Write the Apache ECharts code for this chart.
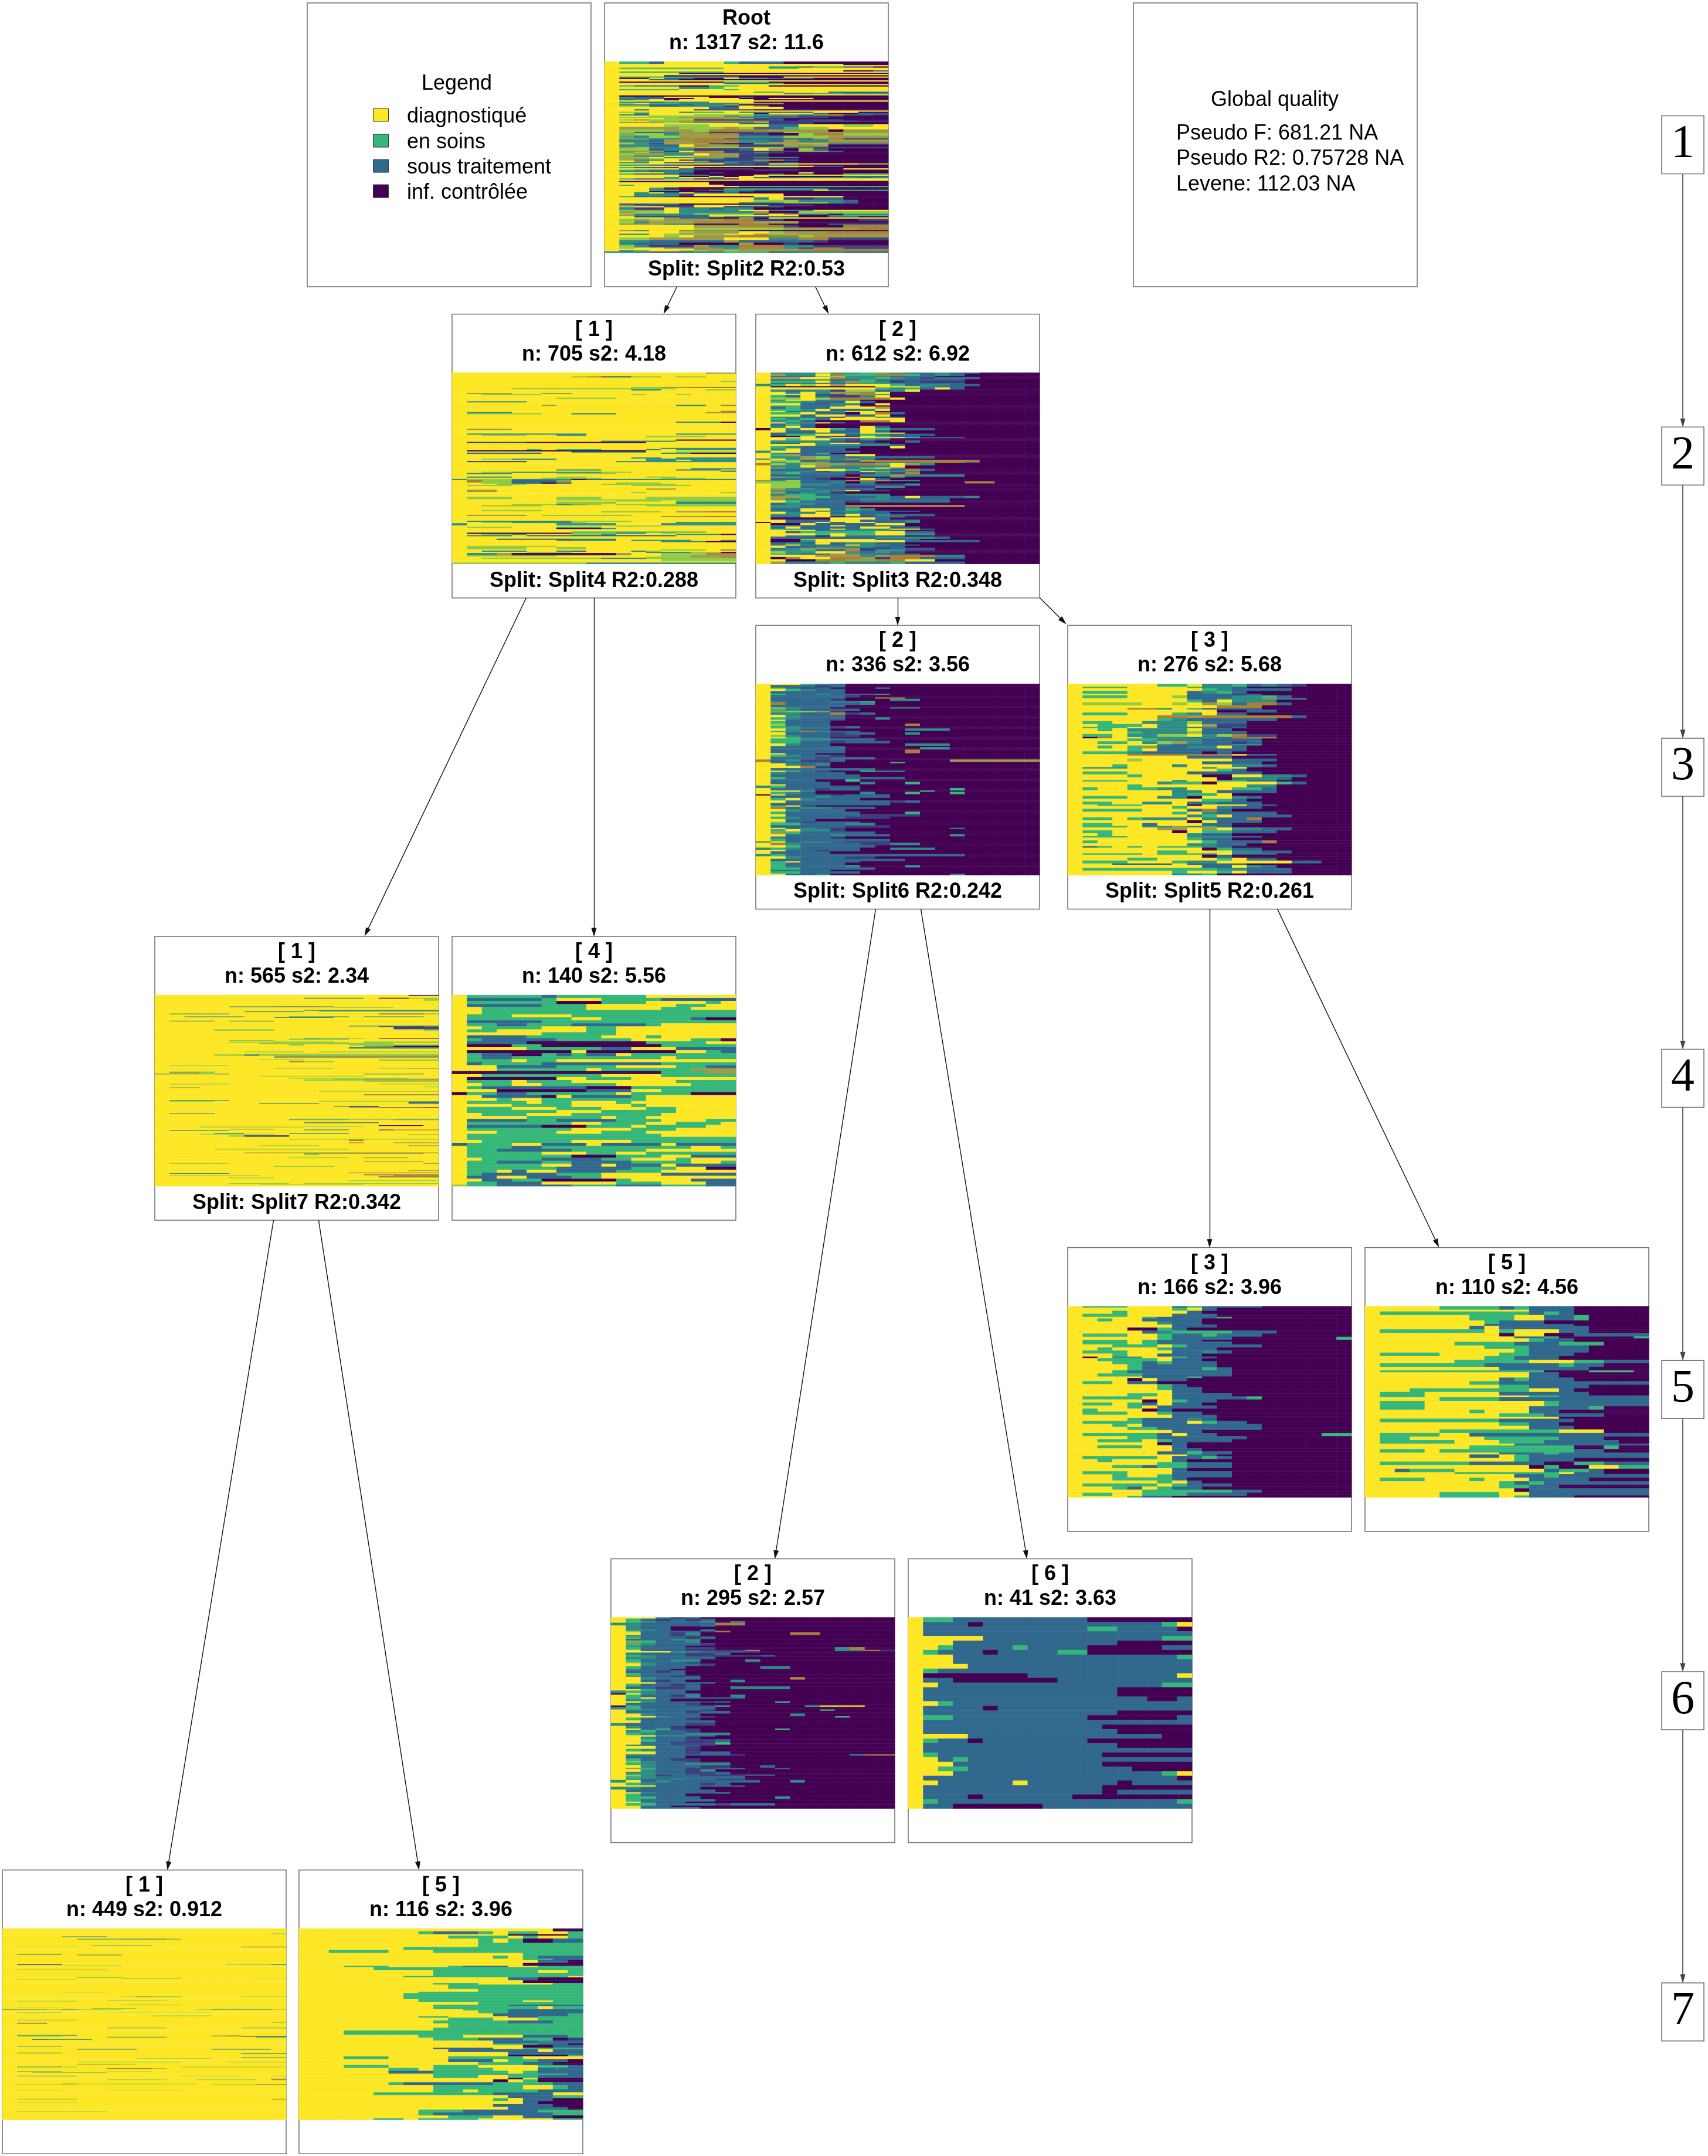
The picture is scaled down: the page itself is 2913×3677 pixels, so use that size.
<!DOCTYPE html>
<html><head><meta charset="utf-8"><style>html,body{margin:0;padding:0;background:#fff}#c{width:2913px;height:3677px}</style>
<script src="https://cdn.jsdelivr.net/npm/echarts@6/dist/echarts.min.js"></script></head><body><div id="c"></div>
<script>
// Each strip: "weight:runs" - weight = strip thickness, runs = state+column count along the 19 time steps
// (a strip keeps its last state up to the final step).
// Y diagnostiqué, G en soins, S sous traitement, P inf. contrôlée;
// L,T,O,B,I = colours seen where thin sequences of different states merge in the picture.
const stateNames = ['diagnostiqué','en soins','sous traitement','inf. contrôlée'];
const stateCodes = 'YGSPLTOBI';
const stateColors = ['#FDE725','#35B779','#31688E','#440154','#8FCB45','#2E8C85','#9C9A48','#A8803A','#3B3F7E'];

const rootRows = ["2:Y1G2S1Y4G1S3P7","1:Y16P3","1:Y19","1:Y11T2S1G2S2P1","1:Y1G7Y3G2Y1","1:Y19","1:Y16P2S1","1:Y1G7Y11","1:Y4Y1P14","1:Y19","1:Y1Y3P15","1:Y1G8P3Y7","1:Y1P2Y1S2P2Y1G2S3P1","1:Y3S2P14","1:Y19","1:Y1P7G3P8","1:Y8S3G1P7","1:Y19","1:Y1G1S2S1P2G2Y2P1","2:Y5T2G1Y11","1:Y1G4Y3G1Y10","1:Y19","1:Y8Y2G2Y3S2S2Y1","1:Y1Y11T2G2T2","1:Y19","1:Y1P18","1:Y1T1S2Y2Y1P2S1P9","1:Y1T1S1S1P2Y2Y1P2Y3P4","1:Y1S1T1Y1P1Y2Y3P9","1:Y19","1:Y1T1S2T3Y3P8","1:Y1L1Y1G2T3T1L1O2P7","1:Y1T2S3T1T1O1P9","1:Y1L2S2T1T2I1Y1O1P7","2:Y1Y1Y2Y3S1S1Y3P7","1:Y2S1Y1Y2I2I2P9","1:Y19","1:Y1L2Y1Y1T1G1G1Y1T2S2S1Y3P2","1:Y2T1Y2Y2Y3P1Y3S1P2S2","1:Y1T1S1Y2Y1L2L2G1O2T1O1O1S2I1","1:Y1Y1Y1L3L2T1O1S3I3P2","1:Y1L2L2O2O2T2S2I2P5","1:Y1Y2Y1L2B2O2I2P7","1:Y1L1O1L3I2I3S1P1I3P2","1:Y3L2O1B2B3I3S3I2","1:Y1O2O1L1O1T2T2L1I3P5","1:Y3Y3Y3S2I3P5","2:Y3Y1L1L2Y1Y3S2Y3L2Y1","2:Y1O2O2L2L1O1L1S2G1L2Y4L1","2:Y1L2L1O2L1B3B1O3O1P1O2","1:Y1L1S2T1O1O1I3S1I1L1O3","2:Y1O1L2T1O2B2I2P2L1B2L2","2:Y1G1T1L2O3O1T3L2L1O3","1:Y1O2T1T1B3S3S3O1B1I1","2:Y1T2S1O2B3T2S1O1T2O2O1","1:Y1O1T2O2B2O1T2O1O1B2B2","1:Y1L1T1I1O2O1I1P2O2O1L2T2","2:Y1T2S2Y1B1O1O1I3O1B1O1P1","1:Y1O1L1T2O1L2L1O1L2T2I2","2:Y1L2S1T2I3S1Y1O1P1L1S1P1","1:Y1B1O2I1Y1B1O1I2I3O2S1P1","1:Y1G1L1T2B3I2T1I1P6","2:Y1L1O2T2Y1O2I2P2P5","1:Y1O1T1T1Y2O2O1I2P7","1:Y1L2Y1T2O2T1I1T3P5","1:Y1O2L1Y2T2I3P7","1:Y1L1T2Y1I2I3O2S1P5","1:Y1Y1O1Y1Y2O1I1S3P6","1:Y1T2Y1S1I1T3I3S1P5","1:Y1Y6Y1S1S1I1Y6L2","1:Y1T2S1I2P2I3S2P5","1:Y3Y3Y2Y3Y3S2P3","1:Y1G1S2I1Y1P5I2P5","1:Y4Y1S2I3P6Y2","1:Y1G1T1S3P4I3P5","1:Y1T2S1T2P12","1:Y3Y1T1I1P1I1P5Y1P5","1:Y1G1S1S2I1P5S1P1S1P2G1","1:Y3Y2T2P3Y8","1:Y1Y2Y2P2Y1P1Y2P5S2","1:Y4T1Y2T1Y2S3T1T3S1T1","1:Y1G1S2G2I3Y9","1:Y19","1:Y1P18","2:Y3Y3Y1P10","1:Y1G1Y6P11","1:Y3Y5Y1G7G2","1:Y1Y2L1S1P7","1:Y1Y2S1P4G3G4P3","1:Y3G2P1I1T3S3S1Y1G1","1:Y3P2P3T1I1P3P6","1:Y2T1Y1S1Y1S1I1S1P7P1","2:Y1Y1T2T1I1Y6P7","1:Y1G1S2I1P5Y6P3","2:Y5Y3Y2T1Y1I2S2P3","2:Y1Y4Y3Y2L2L1T2T1S1P2","1:Y7Y2T3L2L1T1S1P2","1:Y1I2S2P3P11","1:Y1O1S1I2I1Y1Y2L2I3P5","1:Y1L1Y2I2Y2I3S1P7","2:Y1T1I2Y1T2S1T2P2P6","1:Y1L1O1O1Y1T2T2Y2T1T2Y3","2:Y1O1L2Y1T1T3T1O1P2L1L2L1","1:Y1L1T3T1L1L3I1Y1O1T2P1T1","1:Y1O1T3S2Y1Y5P2T1G2","1:Y1Y1I3S2L1T2S3P2S2P1","1:Y1Y2Y1O1S2P2O1P1Y5","2:Y1L1O1L1O2O2B2I2P5I1","2:Y1L1T1O3B2B2O3P5","1:Y1O2O1T2P3B2P4S2","2:Y5Y1O3B3I1P3B2","2:Y6L3L3O2O3B1B1","1:Y1O1T1Y2B3B1P10","2:Y5L1O2O1Y2L1O1O2B3","1:Y1T2Y1L1O1L2Y2O1L2O2O2","2:Y4L1Y1O3B2B2L1O2O2","2:Y1L2O2O3Y3T1T1B2I3","2:Y1T2S3S2O1S3S2I1P3","2:Y1T1S2S1P2P2O1P2I1P3","2:Y1L1T1I3O1T1T1B3T1T1I3","1:Y1L1Y2O2B2T1B2B1T1I1B2I1","1:Y1Y2Y3O3O2O2B4B2","1:Y1T1O1Y2L2O1L1O2O2B3B2","1:T1T2S3T2G3S2T3S3"];

const n705Rows = ["1:Y17O2","2:Y19","1:Y8L1O1S2L2Y1L2Y2","3:Y19","1:Y18L1","4:Y19","1:Y12L2O2B3","1:Y4L11Y4","1:Y12T2Y3L2","2:Y19","1:Y1O3Y2O2Y11","1:Y2L4Y6L1Y2L1Y3","2:Y19","1:Y7L4Y8","2:Y19","1:Y1T4Y14","2:Y19","1:Y6O1Y8T2Y1B1","4:Y19","1:Y18B1","1:Y1T3Y13O2","1:Y1L5Y2T3Y8","6:Y19","1:Y15T3P1","5:Y19","1:Y1O3Y15","3:Y19","1:Y1T8Y6T4","1:Y2L3Y2T2Y10","1:Y13L4Y2","2:Y19","1:Y15P4","1:Y10T5Y4","1:Y1I4P8Y6","4:Y19","1:Y14T5","1:Y5G1Y1G3Y3T1Y1T4","1:Y1P12Y6","1:Y8T5Y2L4","1:Y1S5Y8T2P3","3:Y19","1:Y12T2Y1T4","1:Y2L2T3Y6T6","1:Y13T2Y1T3","1:Y1I4Y6T2T6","5:Y19","1:Y16T3","1:Y7T3Y1Y4T3Y1","1:Y18S1","1:Y2L2T3T3L2Y7","1:Y1T3Y3L4Y8","2:Y19","1:Y1T3Y3L2Y4L2Y4","1:Y6L4Y4L3Y2","1:T1L1L2T3T1P1S2T2T6","2:Y1B1L2S3O1Y11B1","1:Y2L2S2P1S1Y3L3Y5","1:Y3L2Y5L3L2Y4","1:Y1L3Y8L4Y3","2:Y19","1:Y3Y10O2Y4","2:Y1O2Y16","1:Y12L1Y5L1","3:Y19","2:Y1L3Y3L3Y3L2L6","1:Y7L3L5L4","1:Y11L3Y1L4","2:Y7L4Y4T2T2","1:Y4L3T1O1L1Y1L3L5","1:Y2L4Y7L6","3:Y19","1:Y2L4Y13","1:Y10L2L2Y1O2B2","2:Y19","1:Y1O4Y1L2L3L1Y7","1:Y14O3B2","3:Y19","1:Y1T3T4L3L1Y7","1:Y2L2T3T1L1Y3Y3T2T3","2:T1Y6T3T1Y3T2T3","1:Y1Y8Y2L3Y5","1:Y1L3Y3G3Y1Y8","1:Y7P3T1Y8","2:Y19","1:Y8G9Y2","1:Y1P7L3T1T1Y1L1Y4","1:Y2L2T1Y3L2T1Y4T3P1","1:Y1T3Y1S3S3S2S2Y3","2:Y19","1:Y3S5T2T1Y8","1:Y7T4Y1T3T1Y2T1","1:Y14T3P2","3:Y19","1:Y1L6Y12","2:Y1L3L1Y2L2Y10","1:Y14L3Y1B1","1:Y2T3Y2T1S1Y3T1L1Y4","1:Y5L3Y5T3L2P1","2:Y1T2O1P7O1Y2L3B1","1:Y1L6Y7L2O3","1:Y13L3O2B1","1:Y2L3L2L3T3L2L1L1L2","2:Y14L5","1:Y19","1:L3L3L3T3T3T4"];

const n612Rows = ["1:Y1T3L1T2G2T1S2T1S2P1","2:Y1O1T2Y1B1G2B2G1S1T1S1P1","1:Y1S3L1L1T2T1S3P1","2:Y1O2Y2B1T2G1T1S1I1S3P1","1:Y1S3T1S2G1S1S2S3P1","2:Y1G3Y1T1O1G1T1I1S1I3P1","1:Y1S3S2T1T1T2S4P1","2:T1G1Y1L1Y1O1Y1Y1Y1G1S1T2S2P1","1:Y1P7Y3T1S2P1","2:Y1Y3Y3Y1G1T1G1S1Y1S1P1","2:Y1T1S1T2I1L2S1T1Y1P1","2:Y1Y1T1Y1T1O2B1Y1P1","1:Y1Y3I2O1B1T1P1","2:Y1G1S1Y1S1I2T1Y1P1","2:Y1L2Y1L1B2B1B1Y1P1","1:Y1T1Y2T3P1","2:Y1G2T1S2Y1S1P1","2:Y1Y2S2T2P1Y1P1","1:Y1G2S2S1Y1P1","2:Y1S1G1S2Y3O1P1","2:Y1G2T1Y1S1S1T1Y1P1","1:Y1Y1S1T1T2Y2P1","2:Y1G2Y1S2P1Y1B1S1P1","2:Y1Y2S1Y2S2Y1P1","1:Y1T2S2I1Y1Y1T1S1P1","2:Y1G1T1G1S1Y2Y3P1","2:Y1T1G1S1P3B2Y1P1","1:Y2S1T1Y1S1P1","2:Y1S1G1S1P5","2:Y1T1Y1S1P3Y1S1P1","2:P1Y1T1Y2G1S1Y1G1S1S2P1","2:Y1Y1S2Y1S1S1Y1S1P1","1:Y1S3S2T1Y3P1","2:Y1S1G2Y2S1G1T1S3P1","1:Y1P2Y1S1I2Y1G1S2P1","1:Y1Y3T1Y2Y3G1S3P1","2:Y1Y1G1Y2S1I1T1S1P1","2:Y1T2T2S1I2P2S1P1","1:Y1S2Y1T1Y2S2P1","2:Y1Y2Y1T2T3S1P1","2:Y1G1T1S2S2P2Y1P1","2:Y1T1Y1S3P1","2:T1Y2S3S1P1","1:Y1T1S1S1G1P1","2:Y1G1O1S2S1Y2P1","2:Y1T2O1L1S2T1S2S2P1","1:T1Y1T1O2T1O1T1P3","2:Y1L2S1T1S2O1B3B2B2P1","1:Y1T1L1O1O1S2I1T3B3S1P1","2:B1L1T1L1O2B2O1Y1O1T1P1","2:Y1T2Y1O1T2T2Y1P1","1:Y1O1T1S2S2L1Y1T1P1","2:Y1S3Y2G1T2S1B1S1P1","1:Y1T1T2I1T1I1Y1O1T2P1","2:Y1T1G1S3I2T1I1B1P1","2:Y1S3S2P1T2O1T3T1P1","1:Y1O1G1S2I1B1P2T1P1","2:Y1S2S1I1P2Y1S1P1","1:O1T1L1S2S1B2O1T1T1P1","2:L1L1L1S2T1P1T1P6B2P1","2:Y1L2T2S3I2T1P1","2:Y1L2S2S1I2T1T1P1","2:Y1O1T2S3S1P1","1:Y1T2S1T2Y1I1I1P1","2:Y1O1S1T2I1P1","2:Y1T1G2S2T1T1T1P1","2:Y1O2G2S3T1S1Y1S3T1P1","2:Y1O1T1G1S3T2S1S1S2P1","2:Y1Y1G1S2S1I1S1S3S2P1","2:Y1S1T2S2P1","2:Y1T2S3B1B5B2P1","1:Y1T2S3T1P1","2:Y1S2Y2S1G1T1P1","1:Y1T1S1Y1T3S3S1P1","2:Y1Y1T2Y1S1T1S2P1","2:Y1T2Y2T1Y1S1T1S2S1P1","1:Y1S2Y2P1S1I1S1T1P1","2:Y1P4Y3S1P1","2:Y1Y1S2S1Y2S3T1P1","1:P1Y1S2Y1S1Y2S1S1T1P1","2:Y1P2Y1S2S2Y2P1","1:Y1T2S2Y1S2S1T1P1","2:Y1S1Y1S3S1Y2S2P1","1:Y1G1T1S2Y1S1T2Y2S1P1","1:Y1Y3S2T3S1P1","2:Y1Y1S1G3G2Y1Y1S2P1","2:Y1Y2Y1G1Y1G2Y2T2P1","1:Y1Y1S2P1Y1S1S3P1","2:Y1S2S2S1S1S1T1T1T2S1P1","1:Y1P2L1Y2Y2S3P1","2:Y1P2T1Y3Y3S3S2P1","2:Y1S1T1S1Y1S1T2S2P1","1:Y1T1Y1T1S2Y1T2S2P1","2:Y1Y1S2T1T2T1S2P1","1:Y1S1T1O2B2I2S1S1S1P1","2:Y1T2G1S2B1I1T1T1I2P1","2:Y1L1T2Y1Y1T1S1T1S1P1","1:Y1G1T1S2O1B1T1S3P1","2:Y1Y3O2O1T1O1B3T2P1","2:Y1P1B1Y1Y1B2O1I1B2S2S1P1","2:Y1Y1P2B2O2B2Y2P1","2:Y1O1T1T2G1T1T1T1G1S2S2P1"];

const n336Rows = ["1:Y1Y2G1T1S1P1","2:Y1S3I1S1P1","1:Y1G1S1I1S1P3T1P1","2:Y1Y1G1T1S1S1P1","2:Y1S3S1S1P1","1:Y1G1S2T1S2S1T1P1","2:Y1S3S1S1I1P1","1:Y1S3S2P2B1B1P1","2:Y1S4I1P3T2P1","1:Y1T1S3T1T1G1P4","2:Y1B1S3S2T1P1","2:Y1S3S1S1P1","1:Y1L1T1S1S1P4T2P1","2:Y1G1T1S2S1S1P1","1:Y1O1L2O1I1P1","2:Y1T1T1S2B1I1S1P1","2:Y1Y1T1S2S1P1","2:Y1G1T1S2S1P2T1P1","1:Y1Y1S3I1P1","2:Y1G1S1S2P1","2:Y1L1S3P5B1P1","2:Y1G1T1S2I1S1P1","2:Y1Y1T1S2P5T2T1P1","1:Y1G1T1B1T1S2P1","2:Y1Y1S3I1S2P2T1P1","2:Y1L1T1S1S1I2P1","1:Y1Y1G1S2P1","2:Y1G2T2S1S1S1P1","2:Y1G2S2I1S3P1","2:Y1Y1T1S2P5T2T1P1","1:Y1T1S3S1P1","2:Y1S4S1P5T1T1P1","3:Y1S3S2P4B1P1","1:Y1Y1S1S1P1","2:Y1G1T1S2I1P1","2:Y1S2S1I1S3P1","2:B1S1T1I2S1P7O1","1:Y1S3S1P4G1P1","2:Y1Y1T1S1T1P1","2:Y1Y2B1I1P1","2:Y1S3S3S1P1","1:Y1Y1G1S1I1P2G1T1T1P1","2:Y1T1S2S2P1","2:Y1S4S1S1P1","2:Y1G1S2S2S3S1P1","2:Y1S2S1P2G1P1","2:Y1S2S2P2T1P2G1P1","1:Y1Y1S2S1P1","2:T1G1S3S2P1","2:Y1S3I1S2P6G1P1","1:Y1Y2T1P7G1P1","2:Y1G1T1S1P3T1P2G1P2G1P1","1:P1Y1S3I1S3P1","2:Y1S3T1S1S3P1","2:Y1G1Y1T1S3P1","2:Y1Y1S3S2S2I1S1P1","2:Y1S4S3S1P2","1:Y1G1Y1I1P2","2:Y1B1S1T2S3P1","2:Y1Y1T1S1S1S1P1","2:Y1G1S3S2P3G1P1","2:Y1Y1S3S2I1I2I1P1","2:Y1G1T1S3I3P1","2:Y1Y1S2P1","1:Y1L1S1I1S3P1","2:Y1G2S3T1T1P1","2:Y1S2S3I3P1","1:Y1Y1S1T1S1I1P7T1P1","2:Y1G1Y1T1T1I1P1","2:Y1O1G1S2S2S1P1","2:Y1Y1S3T1S3P4T1P1","2:Y1T1S2S1I1P1","2:Y1G1S2S2S3P1","1:T1Y1S1T2S1I3P1","2:Y1B1T1S2S2I2T2P1","2:Y1Y1G1S1S1S3P1","2:T1G1T1S2S2P2T1T2P1","1:Y1Y1S2I1S2P1","2:Y1S3S1P1","2:T1G1S2S3S1S2S3S1P1","2:Y1Y1T1S2S1I2P1","2:Y1S3S3S3P1","1:Y1G1Y1S3S1P1","2:Y1G1S3S1P1","2:Y1G1S2S2T1P3T1P1","2:Y1G2S3S1S1P1","1:Y1S3S1P1","2:Y1G2S2S2P1","1:Y2S1S1T1P8T1P1"];

const n295Rows = ["1:Y1Y2T1I1S1P1","2:Y1G1S1I1S1I1S1P1","1:Y1G1T1S2S1T1P1T1P1","2:T1T1S3S1S1B2P1","1:Y1T1S2I1I1S1P1","2:Y1T1S1S1P1","1:Y1T2S1P2T1P1","1:Y1L1S3S1I1B1P1","2:Y1Y1S2I1T1P6B2P1","1:Y1T1S2I1S1P1","2:Y1G1S3I1S1P1","1:Y1S2S1T2P1","2:Y1O1G1S2T1P1","2:Y1G1T1S3I1P1","1:Y1T1S2S1P1","2:Y1G1S3I2P8T1B1P1","1:Y1Y1S2S1I2I2B1P5T1T1B1I1","1:Y1Y3T2S1I1S1I1P1","2:Y1T1S3I2S1P1","1:Y1G1T1S2I2I3S1P1","2:Y1T2S2S2P1","2:Y1G1S2T1T1P3T1P1","1:Y1L1T1S2I1P1","2:Y1Y1T1S2S1I1P1","2:Y1G1S2S1P5T1T1P1","1:Y1T1S2P1","2:Y1S2I1S1P1","2:Y1G1S2S1P1","1:Y1B1S2I1S1P1","2:Y1Y1T1S3P6B1P1","2:Y1Y1S1I1S1P3T1P1","1:Y1Y2S2S2P1","2:Y1G1S2I1S1P1","2:Y1S2I2S1P2T2T2P1","1:Y1Y1G1S2S1P1","2:T1G1T1S2P1","1:P1Y1T1S2S1P1","2:Y1G1S2I1T1P2T1P1","1:Y1G1Y1S3S2S1P1","2:Y1T2S1P1","1:Y1Y1T1S3I1S1P3G1P1","2:Y1S4I1P1","1:P1G1S1S3S1G1P5G1Y3P1","2:T1G1S3S1S1P1","1:Y1T2S3I1P7G1P1","2:Y1S3S1I1S1S1P1","2:Y1Y1T1S2S1P6T1P1","1:Y1Y2T1S2I1P8G1P1","2:Y1G1S2S1I1P1","2:Y1Y1S2S2S1P1","2:T1S1S3I2P1","2:Y1T1S2I1P1","1:Y1Y1S1G1I2P5G1P1","2:Y1T1G1S2I1P1","2:Y1G1T1S2T2T1P1","1:Y1Y2T2S1S1P1","2:Y1Y1T1S2I1P1","2:Y1Y1G1S2I2S1P1","2:Y1Y1S2I1I1I1G1P1","1:Y1T2S2S1I1P1","2:Y1Y2S2I1P1","2:Y1G1T1S2I1P1","2:Y1Y2S2I1S2P1","1:Y1T2S3S2I1P7T1B2","2:Y1S2S1S1P1","2:Y1G1S1S1I2P1","1:Y1L1T1S2I1P1","2:Y1G1T1S2T1T2P1","2:Y1Y1T1S3I2P2S1P1","1:Y1O1G1S2I2S2P2S1P1","2:Y1Y1T1S2I1T1P1","2:Y1T2S2I2S1P1","1:Y1L1T1I1S2I3S2P1","2:Y1G1T1S2S1S2S1P1","1:Y1T1S2T1S2I2P1","2:T1Y1S1T1S2S2S2P2T1P1","2:Y1G1T1S2S1I1S1P1","1:Y1Y2S2S2S1S1P1","2:T1T1S3S1P1","2:Y1S3S3P1","1:Y1Y1T1S1S1S1S1T1P1","2:Y1G1S2S1P1","2:Y1G2S2S1P5T1P1","2:Y1G1S2S2S1P1","1:Y1Y1T1S2P1","2:Y1G2S2S2I1S2S1P1","1:Y1Y1S1S1P1","1:Y2S2S1S1P1"];

const n276Rows = ["2:Y6G2Y1T2G1S1T1S1I1P1","1:Y1G3Y3Y1G1T2S1P1","2:Y4Y3Y2G1T1S2S2P1","2:Y1G3Y2Y2S1T1G1S1P1","1:Y3Y3Y2S1S2I1S1P1","2:Y1G2G1Y3L1S1S2T2G1S1P1","1:Y4Y4S2T1T2B1T2P1","2:Y4Y1Y2Y1G1S1Y1T3P1","2:Y1L3L1Y2L1Y1O1L1S1B2S1P1","2:Y5Y2Y2Y1B2B1P1","1:Y4B2T1Y1G1S2S2P1","2:Y4Y2Y3Y1P2S2P1","2:Y1G3Y2Y1G1T1Y1S2P1","2:Y6B2O1B1B3B2S1P1","2:Y1Y4Y1G1T1S2S3S1P1","2:Y1G2Y1Y1T2T1L1S2S1P1","2:Y2G2G1Y1T2Y1O1I2P1","1:Y1G3Y2T1T3I1S1P1","2:Y1Y1G1Y1T3T1Y1S2P1","2:Y3Y1G1T3L1S2S1P1","2:Y1G2Y1T2L2Y1T1L1B1I2P1","1:Y1P1B1Y1Y1T2T1S1T1S1B3P1","2:Y1Y3G2T2T1S1S2S1P1","2:Y2G2Y1T1L1O1T1S2I1S1P1","1:Y3Y2Y1T1S1S1S2T2P1","2:Y2G1Y1G1O1S2T1T1Y1S1P1","2:Y4G1Y1S3S1S2P1","2:Y1G3T1S2S2P1S1P1","1:Y4B5B2Y1S2P1","2:Y4Y2Y2S1S1S1P1","2:Y3Y1L1Y2Y3Y1S2S1P1","2:Y5Y3Y1S1S2S1P1","2:Y3G1Y1Y2T1Y3T2S1P1","1:Y1T3Y5T1Y2P1","2:Y5Y3Y2G1S1P1","2:Y1G3Y2Y2S2S1S1S1P1","2:Y4G1Y4P2Y2T2S1P1","2:Y5Y2Y3P1T3S1P1","1:Y1G3Y3T1Y1Y1G2S2P1","2:Y4Y2T1G2P1Y3Y1G1S1P1","2:Y4G1Y2Y3Y2T2P1","2:Y1G1Y2G2T2Y3G2S1P1","2:Y5Y2T2Y1S2S2P1","2:Y4Y2Y1T1G2Y1P1","2:Y1G3Y2T2P1Y2T1S1P1","2:Y2Y2Y2Y2Y1G2S1P1","2:Y1G2Y1Y1T2Y1S1T1S2S1P1","1:Y2G3Y3P1Y3S2P1","2:Y4Y1Y2G1Y2T1S2P1","2:Y1G3G1Y2Y1S1B1S1P1","2:Y5Y2G1Y1T1S2S1S1P1","2:Y3Y2Y2Y1T1G1Y1S3S1P1","2:Y1G2Y1G1T2T1Y1T1S2B1P1","2:Y4Y2Y2P1Y1S3P1","2:Y1G2Y1Y1S1Y3S1S1P1","1:Y1G3Y1T1T1O1T1G1S1P1","2:Y4Y2O2Y1O1Y1T2S2P1","2:Y1G2Y2Y1Y1P1Y1G2S1S2P1","2:Y2G1Y3Y2T1S1S1P1","1:Y1G3Y3Y1T3S2P1","2:Y6Y1Y1G1S2P1","2:Y1G1Y3Y2Y1Y1G1S2S1B1P1","2:Y5Y2Y1T2S2P1","1:Y1S1G1Y1G1Y1G3T1S1P1","2:Y5Y2Y2P1G1S2P1","2:Y3Y3G2Y2Y1T2S1S1P1","1:Y1G4Y1G1G2T1Y1S3P1","2:Y4Y2Y2Y1P1S1P1","2:Y3Y1G1G1Y1Y3G1Y1S2P1","2:Y1G3Y3G1T2Y3Y2S2P1","1:Y3S3S1Y1S2S2P1","2:Y5Y2Y1Y1S2Y1T1S1P1","2:Y1G6G1G2T2S2S1P1","2:Y6Y1G1Y2G1Y1S3P1","1:Y7T2G1P1"];

const n565Rows = ["1:Y17P2","3:Y19","1:Y10T4Y1P2L2","3:Y18L1","8:Y19","1:Y5T3S3T1Y7","1:Y12L4Y3","3:Y19","1:Y10T9","1:Y11T8","1:Y6T4Y9","2:Y19","1:Y1T4Y10I3B1","3:Y19","1:Y2T4Y3T4Y1T4Y1","1:Y8T4Y7","4:Y19","1:Y1T3Y1T3Y11","6:Y19","1:Y13T4S2","1:Y15I3B1","3:Y16I3","2:Y4L4Y10L1","10:Y19","1:Y10T1O3Y1P4","2:Y9L4Y6","2:Y5L3Y11","1:Y8L4Y2L5","1:Y5L8Y1L5","2:Y7L9Y3","2:Y9L1Y3L6","2:Y14O1B1P3","2:Y13T6","4:Y19","1:Y6L4Y1L8","2:Y19","1:Y7L12","2:Y4L2T1L12","2:Y8O11","1:Y8O11","2:Y19","1:Y7L3Y5L4","1:Y15L4","2:Y9B1L2Y7","4:Y19","1:Y1L4Y14","3:Y19","1:Y8L4Y3L2O2","4:Y19","1:Y1L3Y15","2:Y1O2L1Y15","1:T1L3T1Y9T4Y1","2:Y19","1:Y7L7Y5","2:Y19","1:Y9L8Y2","1:Y12L2O4B1","2:Y10L9","1:Y14O5","3:Y19","1:Y1L4Y10L4","3:Y19","1:Y18L1","1:Y1O2Y16","4:Y19","1:Y11L8","4:Y19","1:Y14I5","7:Y19","1:Y1T4Y14","1:Y1L3Y3Y4L5L3","2:Y17S2","1:Y7T4Y6S2","3:Y19","1:Y12S3Y4","1:Y13I2Y4","1:Y15I2I1P1","7:Y19","1:Y1T3Y15","7:Y19","1:Y9T10","1:Y9L4Y3L3","3:Y19","1:Y10S5Y4","3:Y19","1:Y15P3Y1","1:Y10L4Y5","1:Y3L7Y9","2:Y19","1:Y5O3Y11","1:Y10T3Y2I1B3","1:Y1T4Y14","3:Y19","1:Y4T2Y3T4Y6","1:Y3L5Y11","1:Y17O2","2:Y5L1I3Y10","3:Y19","1:Y9L10","2:Y13B1Y5","2:Y19","1:Y13B1Y2O3","3:Y19","1:Y7L4Y6O2","4:Y19","1:Y4L9Y6","4:Y19","1:Y6O13","1:Y10O8Y1","2:Y10L1Y8","3:Y19","1:Y9L4Y1O3Y2","4:Y19","1:Y14O4Y1","2:Y19","1:Y1L4Y13O1","3:Y19","1:Y8L4Y7","5:Y19","1:Y17O2","2:Y19","1:Y13B6","1:Y1T4Y14","2:Y14O5","1:Y1L6Y9B3","2:Y15B4","1:Y5L3Y11","3:Y19","1:Y13L6","3:Y19","1:Y5L4Y1L9","1:Y7L7Y5","2:Y19"];

const n140Rows = ["2:Y1G5S1G1G5Y6G1","2:Y1S5G1Y3G4S4","2:Y1G6P3G3Y4G1Y1","2:Y1S5G3Y6G2Y2","2:Y1Y1G6G1Y5G2Y1","3:Y2G4G13","2:Y1G3Y4G11","2:Y1G7Y2G6S1P1","2:Y1S4S1G3G9","2:Y1G2S2G3S5G1Y6","2:Y1Y1G4Y3G2Y3Y2Y3","2:Y1G2Y6G2Y8","2:Y1Y5G4G1Y8","2:Y1S4G1G4Y3G1Y2Y2","2:Y1G1S5G5Y4G2P1","2:Y1S3S1P8G4Y2","2:Y1P3G2P8G2G2","2:Y1Y2Y2G2G3S2Y3S1","2:Y1P4P3Y1P6Y2G1S1","2:Y1G1S2P2G1S1G1S2Y1G2G1","2:Y1G1S2G10Y1G3","2:Y1G3Y1G2Y2Y3Y5","2:Y1S1G4S5S3G4","2:Y1Y2S2S2G4Y3Y1G2S1","2:Y1Y2G6Y1G6O1","2:P1P12P1G3O1","2:Y2G7G1Y4G2G2","2:Y1P6Y2G3Y5Y1","2:Y1G3Y1G3Y3Y4G2","2:Y2G2Y2G2G3Y5G2","2:Y1G1S7P3G6","2:Y1Y2P5P1S3Y2G4","2:P1G2S2G6Y1G4P1","2:Y2S4P1Y1S4G1Y5","2:Y1Y2G1Y2G7Y5","2:Y1G4Y1G2Y2Y1G1Y2Y2Y1","2:Y4G4Y4G1Y2Y2","2:Y1G3Y3G3Y3G2Y3","2:Y1G4G2Y3G5Y3","2:Y2G3Y3G6Y3","2:Y3Y2G5Y1G2Y5","2:Y1S3S1G2S4G3Y3G1","2:Y1G7Y2G3Y2G3Y1","2:Y1S3S2P3G3Y1G4Y2","2:Y1G2G5Y4G3Y3","2:Y3G4Y3G3Y5","2:Y1G4G9Y2Y2","2:Y1G9G3G6","2:Y1Y1G6Y2Y2G6","2:S1G3Y2S2S1Y1S4Y1S4","2:Y1G3S2G1G4G5Y2G1","2:Y1G2S5G2G3Y3Y2","2:Y1G5Y3G2Y2G2G2","2:Y1G7P3G3Y2S3","2:Y2G4S4G2Y3G1Y2","2:Y1G2S2S1G2S4G2G2Y2G1","2:Y1G5Y2S2Y1S3Y1S2","2:Y1G6S5G3Y2P2","2:Y1G2Y1S1Y2S4G3Y4","2:Y1G1S5G3Y2Y2S3","2:Y1S2Y2S3G2Y2Y5","2:Y2S2G2P5G1Y1Y3S3","2:Y1G2S3Y3Y2G3Y3S1","1:L1G2S5G3S3G3S2G1"];

const n166Rows = ["1:Y1G3Y3S1G1S3S1P1","2:Y7G1Y1S1P1","2:Y1Y2G1Y3Y1S1P1","2:Y1G3Y3S1S1S1P1","1:Y3Y1Y1G1S2S2G1P1","2:Y1Y1G1Y2S3S1P1","2:Y3Y3T1S2P1","2:Y1Y3Y2Y1S2S1P1","2:Y1Y3P2G1S1P1","2:Y5S1T1G2G2S3P1","2:Y1G3Y2G1S2G1S3P7G1","2:Y5Y1G1S4P7G1","1:Y1G3Y1G1S2S1P1","2:Y1G3Y1G1S3S1S1P1","2:Y3G3Y1G1S3S2P1","2:Y2G1Y3G1S1S2P1","2:Y1G1G2Y3S2T1S1P1","2:Y3G1Y2S1S2P1","1:Y1P1Y1T2Y2G1S1S1P1","2:Y2G1G3Y1S2P1","2:Y2Y1G2S1G1S2S1P1","2:Y3Y1G1S2S2S1P1","2:Y4G1S2S2G1S1P1","2:Y3G1S4S2S1P1","2:Y2G3S5S1P1","1:Y5S3G1P1","2:Y4P1Y1S2P1","2:Y1G2Y1S1S1P1","2:Y3Y1Y2G1S1P1","2:Y4Y2G1S2P1","2:Y5Y1Y1S1S1P1","2:Y4G2Y1S3S1P1","2:Y1G4Y2S3S2G1P1","2:Y5P1Y1G1S2P1","2:Y1G2Y1G1S1Y1S2P1","2:Y4G1Y1S2S1S1P1","2:Y1G1Y2Y1P1S1P1","2:Y1G3Y2G1S2P1","2:Y6Y1S1S2P1","2:Y3Y1G1S3T1S1P1","2:Y1G3G1S3Y1G1S2P1","2:Y3G1Y1S2S1S3S2P1","2:Y4G2S3S2S1S1P1","2:Y5Y2S2P1","2:Y1G5S1Y1S1S1P7G1","2:Y4G1G1S2S3S1P1","2:Y2G3Y1G1S2S2P1","2:Y4Y2P1S1P1","2:Y2G1G1G1Y1Y1S1P1","2:Y5Y1Y1S1S1P1","2:Y6S2G1S2P1","1:Y5Y1Y2S1S1P1","2:Y1G5Y1S2G1S1P1","2:Y2G1Y3Y1S1P1","2:Y5Y1G2S2S1P1","2:Y3G2S1G2S1S2P1","2:Y5Y2S1P1","2:Y1G3Y1Y2S3S1P1","2:Y2Y1G1Y2G1S2S2P1","2:Y3G2G2S1P1","2:Y4Y1Y1G1Y1S1P1","2:Y1G5Y1G1S2S1P1","2:Y3G1S1Y1G1S1S1P1","2:Y5G1G1G2G2S2P1","2:Y1G2Y2G2G1S2S1S1P1","1:Y4G1S2P1"];

const n110Rows = ["2:Y5G4S1G1S3P5","1:Y11S3P5","2:Y1G10S1G1S1P5","3:Y7G3Y2S2G1P4","2:Y8G1S3P7","1:Y8S1S4S1P5","2:Y7S1Y1S4S2P4","2:Y1G7Y1G1Y3S2P4","2:Y9P1Y2P2S5","1:Y10S2G1P5G1","2:Y11G1S2P5","2:Y6G4S3G3P3","2:Y8G3S2S2P4","2:Y10G1S4P4","2:Y1G4Y4G2S3P5","2:Y8G2S3P6","2:Y6G3G2Y3G2S3","2:Y1G6G1S5G1S2P1","2:Y9S2S2S2P4","1:Y1G9G2P3G3P1","3:Y10Y1S2P6","2:Y9S1G1S3P5","2:Y7G2S1S5S4","2:Y9G2S4P4","2:Y3G8Y2S1P5","2:Y1G3Y5S3S2S1P4","1:Y1G3Y7G2S3S3","2:Y5G4S2S3S5","3:Y1G3Y6Y2G1S3S3","2:Y1G3Y7S2S1S1G1P3","2:Y7G1Y3S2P6","2:Y9G3S1S3P3","1:Y11Y2P6","2:Y1G8S2S3P5","2:Y9G2S2P6","2:Y9Y2S3P5","2:Y5G6G2Y2Y1P3","2:Y1G4Y2S4S2S6","2:Y1G2Y5G3G2S3P3","2:Y1G3G2Y3G3S3S2P2","1:Y3Y1Y4Y2S2S2S5","2:Y7G4G3P2G1P2","2:Y1G3Y1G3G6S2P3","1:Y9S3G1S2S4","2:Y7S2Y1G1S3S5","2:Y10G1S3P5","2:Y1G6S2S3P2G2S3","2:Y11P1G1P2Y2G2","2:Y2S1G3Y3Y3S1G2S1P3","1:Y6G5G2Y1S2P3","2:Y9Y1S2G1S3S2","2:Y1G3Y3G1Y3S3S1P3","2:Y9G1S1G1S4S3","2:Y7Y2G2S2P6","2:Y8Y2P1S1S2S5","2:Y5G4Y2S4S4","1:Y5G4Y1G1S3P5"];

const n41Rows = ["1:Y1G2S9P7","1:Y1S3P1S12G1Y1","1:Y1S11G2S4P1","1:Y1S18","1:Y5S12G2","1:Y3S11P5","1:Y2G1S4G1S4P5S2","1:Y1G1S3P1S4G2P7","1:Y3S15G1","1:Y3S16","1:Y4S15","1:Y1G1S17","1:Y1P7S10Y1","1:Y1S2P7S9","1:Y2S15G2","1:Y1S13P5","1:Y1S13P5","1:Y1S15P2S1","1:Y2G1S16","1:Y1S4P1S13","1:Y1S13P5","1:Y1G2S9P6S1","1:Y1S18","1:Y1S12P6","1:Y1S13P5","1:Y4S13P2","1:Y1G1S2P1S7P7","1:Y1S13P5","1:Y1S18","1:Y1G1S11P6","1:Y2S1G1S15","1:Y3S10P6","1:Y2G2S11P4","1:Y3S14G1Y1","1:Y1S17P1","1:Y2S5Y1S6P1S4","1:Y1S12P6","1:Y1S12P1S5","1:Y1S3P1S6P8","1:Y1G1S16G1","1:Y1S2P6S10"];

const n449Rows = ["8:Y19","1:Y18L1","4:Y19","1:Y4T3Y12","3:Y19","1:Y5T3S3G1Y7","9:Y19","1:Y6G4Y9","2:Y19","1:Y1L4Y11I3","11:Y19","1:Y1T3Y15","1:Y5T3Y11","15:Y19","1:Y1I3Y11L3T1","1:Y4L4Y11","6:Y19","1:Y1L6Y12","12:Y19","1:Y5L3Y11","1:Y17L2","1:Y8L4Y7","1:Y1L4Y14","20:Y19","1:Y4L3Y12","6:Y19","1:Y8L4Y4L3","1:Y9B1L2Y7","5:Y19","1:Y7L4Y8","1:Y1L4Y14","5:Y19","1:Y8L4Y7","4:Y19","1:Y1L3Y15","1:Y6L3Y10","1:Y1O2Y16","1:T1L3T1L3Y5L1T4L1","3:Y19","1:Y7L7Y5","1:Y1L3Y15","4:Y19","1:Y10L4Y5","6:Y19","1:Y1L4Y14","3:Y19","1:Y18L1","1:Y1I2Y16","7:Y19","1:Y7T4Y5T3","11:Y19","1:Y1T4Y14","1:Y14T1I1Y3","1:Y1L3Y12S3","1:Y7T4Y6T2","3:Y19","1:Y2S1T3Y13","10:Y19","1:Y1T3Y15","4:Y19","1:Y5T4Y5T4Y1","5:Y19","1:Y1T3Y15","1:Y16T3","6:Y19","1:Y16T3","1:Y9L5Y5","5:Y19","1:Y5L7Y3L4","3:Y19","1:Y5O3L1Y10","3:Y19","1:Y1T3L1Y7L7","2:Y19","1:Y7P3T1Y8","4:Y19","1:Y1T3Y3L3Y9","1:Y2L5Y12","5:Y19","1:Y1T4Y7L4Y2L1","4:Y19","1:Y18B1","1:Y7L4Y2L4Y1O1","6:Y19","1:Y4T1L8Y6","1:Y1L3Y10L3T2","8:Y19","1:Y1L3Y3L5Y7","14:Y19","1:Y1L4Y13O1","5:Y19","1:Y1L4Y14","13:Y19","1:Y1L6Y12","13:Y19"];

const n116Rows = ["2:Y17P2","2:Y8G1S3G1Y1G2Y2G1","1:Y10Y4P4G1","2:Y10G4Y1G1Y2G1","3:Y12G1Y1G1P2S2","3:Y12G7","2:Y7G2G1G9","2:Y2G4Y3G10","2:Y13Y1Y1G1G3","2:Y13G1Y1G1S3P1","1:Y13Y2G2S2","2:Y15Y1S2P1","2:Y15P1P3","1:Y3G3Y4G1S3Y2G2G1","2:Y5G6G8","2:Y7Y2G4G2G1Y1Y1G1","2:Y9G9G1","1:Y7G3G7G1Y1","2:Y14S2P3","2:Y15P4","1:Y9G3Y3Y2G2","3:Y10G9","2:Y10Y2G3G4","1:Y6Y2G11","1:Y7G12","3:Y7G12","1:Y7Y1G11","1:Y8G7Y2G2","2:Y8Y4G7","1:Y9G5S1S2S2","2:Y9G2G4G1Y1G2","1:Y11G3S5","2:Y12G2S3S2","2:Y13S5G1","1:Y8G2Y4S2G3","2:Y10G3Y2Y1G3","2:Y9G5S3G2","3:Y10G3G5G1","2:Y9G2G7G1","3:Y3G4G12","2:Y8G3Y4S3G1","2:Y9G3S3G2P1I1","2:Y13S3T1S2","1:Y13G3S2P1","2:Y15P2S2","1:Y9S4Y2G4","2:Y10S6Y1S2","2:Y14S5","1:Y14P4G1","2:Y3G3Y4G2G2G1Y3Y1","2:Y10S3Y1G2S2P1","2:Y12G2G1S2P2","2:Y3G3Y3G1G2Y4G2S1","2:Y6G2Y1G4Y3S3","2:Y6S3G5Y1G1S3","1:Y9G3G3G3S1","2:Y9G3Y2G2S3","1:Y14P1Y1P1P2","2:Y13P1Y1G1P3","2:Y6G1S6G4S1","3:Y9G2G4Y2G1S1","2:Y9G2Y1G4S2S1","2:Y5G8S3S1Y1Y1","2:Y14S3G2","2:Y13G1Y1S1S1P2","2:Y14Y1S1P3","2:Y13S1S3P1P1","2:Y14S4P1","2:Y8G3S5G2G1","2:Y8G1S5S3G2","2:Y10G3Y2S2P2","1:Y5G2Y1G1G3Y1Y4G2"];

const treeNodes = [
  {key:'root',title:'Root',info:'n: 1317 s2: 11.6',split:'Split: Split2 R2:0.53',rows:rootRows,children:['a','b']},
  {key:'a',title:'[ 1 ]',info:'n: 705 s2: 4.18',split:'Split: Split4 R2:0.288',rows:n705Rows,children:['c','d']},
  {key:'b',title:'[ 2 ]',info:'n: 612 s2: 6.92',split:'Split: Split3 R2:0.348',rows:n612Rows,children:['e','f']},
  {key:'e',title:'[ 2 ]',info:'n: 336 s2: 3.56',split:'Split: Split6 R2:0.242',rows:n336Rows,children:['i','j']},
  {key:'f',title:'[ 3 ]',info:'n: 276 s2: 5.68',split:'Split: Split5 R2:0.261',rows:n276Rows,children:['g','h']},
  {key:'c',title:'[ 1 ]',info:'n: 565 s2: 2.34',split:'Split: Split7 R2:0.342',rows:n565Rows,children:['k','l']},
  {key:'d',title:'[ 4 ]',info:'n: 140 s2: 5.56',split:'',rows:n140Rows,children:[]},
  {key:'g',title:'[ 3 ]',info:'n: 166 s2: 3.96',split:'',rows:n166Rows,children:[]},
  {key:'h',title:'[ 5 ]',info:'n: 110 s2: 4.56',split:'',rows:n110Rows,children:[]},
  {key:'i',title:'[ 2 ]',info:'n: 295 s2: 2.57',split:'',rows:n295Rows,children:[]},
  {key:'j',title:'[ 6 ]',info:'n: 41 s2: 3.63',split:'',rows:n41Rows,children:[]},
  {key:'k',title:'[ 1 ]',info:'n: 449 s2: 0.912',split:'',rows:n449Rows,children:[]},
  {key:'l',title:'[ 5 ]',info:'n: 116 s2: 3.96',split:'',rows:n116Rows,children:[]}
];
const qualityLines = ['Pseudo F: 681.21 NA','Pseudo R2: 0.75728 NA','Levene: 112.03 NA'];
const levelLabels = ['1','2','3','4','5','6','7'];

// ---- layout (pixels), separate from the data
const W=2913,H=3677,BOX=484,LEVEL_STEP=530.7,TOP0=5,HEAT_TOP=100,HEAT_H=326,STEPS=19;
const place={root:[1031,0],a:[771,1],b:[1289,1],e:[1289,2],f:[1821,2],c:[264,3],d:[771,3],g:[1821,4],h:[2328,4],i:[1042,5],j:[1549,5],k:[4,6],l:[510,6]};
const topOf=l=>TOP0+l*LEVEL_STEP;
const SANS='"Liberation Sans",Arial,sans-serif';

function decode(rows){
  const out=[];let y=0;
  rows.forEach(s=>{
    const [w,runs]=s.split(':');
    const cells=[];
    runs.replace(/([A-Z])(\d+)/g,(m,c,n)=>{for(let i=0;i<+n;i++)cells.push(stateCodes.indexOf(c));return m;});
    while(cells.length<STEPS)cells.push(cells[cells.length-1]);
    for(let k=0;k<+w;k++){for(let x=0;x<STEPS;x++)out.push([x,y,cells[x]]);y++;}
  });
  return {data:out,count:y};
}
const grids=[],xAxes=[],yAxes=[],series=[],graphics=[];
const stepCats=Array.from({length:STEPS},(_,i)=>String(i));
const text=(t,x,y,font,align='center')=>({type:'text',z:20,silent:true,style:{text:t,x,y,font,fill:'#000',textAlign:align,textVerticalAlign:'middle'}});
const box=(x,y,w,h)=>({type:'rect',z:0,silent:true,shape:{x,y,width:w,height:h},style:{fill:'#fff',stroke:'#6e6e6e',lineWidth:1.5}});

treeNodes.forEach((n,i)=>{
  const [x,l]=place[n.key],y=topOf(l),d=decode(n.rows);
  grids.push({left:x,top:y+HEAT_TOP,width:BOX,height:HEAT_H,containLabel:false});
  xAxes.push({type:'category',gridIndex:i,data:stepCats,show:false});
  yAxes.push({type:'category',gridIndex:i,data:Array.from({length:d.count},(_,k)=>String(k)),inverse:true,show:false});
  series.push({type:'heatmap',name:n.info,xAxisIndex:i,yAxisIndex:i,data:d.data,progressive:0,silent:true,animation:false,emphasis:{disabled:true},z:3});
  graphics.push(box(x,y,BOX,BOX));
  graphics.push(text(n.title,x+BOX/2,y+27,'bold 36px '+SANS));
  graphics.push(text(n.info,x+BOX/2,y+69,'bold 36px '+SANS));
  if(n.split)graphics.push(text(n.split,x+BOX/2,y+455,'bold 36px '+SANS));
});

// legend box
graphics.push(box(524,5,BOX,BOX));
graphics.push(text('Legend',779,143,'36px '+SANS));
const legendY=[196,240,283,326];
stateNames.forEach((s,i)=>{
  graphics.push({type:'rect',z:5,silent:true,shape:{x:636.5,y:legendY[i]-11,width:26,height:22},style:{fill:stateColors[i],stroke:'#333',lineWidth:1}});
  graphics.push(text(s,694,legendY[i]+3,'36px '+SANS,'left'));
});
// quality box
graphics.push(box(1933,5,BOX,BOX));
graphics.push(text('Global quality',2174,171,'36px '+SANS));
qualityLines.forEach((s,i)=>graphics.push(text(s,2006,228+i*43.5,'36px '+SANS,'left')));

// tree edges: straight line between box centres, clipped at the boxes
const edges=[];
const TIP=7;
treeNodes.forEach(n=>n.children.forEach(k=>{
  const [px,pl]=place[n.key],[cx,cl]=place[k];
  const p=[px+BOX/2,topOf(pl)+BOX/2],c=[cx+BOX/2,topOf(cl)+BOX/2];
  const y1=topOf(pl)+BOX,y2=topOf(cl);
  const at=y=>p[0]+(c[0]-p[0])*(y-p[1])/(c[1]-p[1]);
  const y3=y2-TIP;
  edges.push({coords:[[at(y1),y1],[at(y3),y3]]});
}));
// level ruler on the right
const LX=2870,LW=72,LH=99;
const levelEdges=[];
levelLabels.forEach((t,i)=>{
  const cy=topOf(i)+BOX/2;
  graphics.push(box(LX-LW/2,cy-LH/2,LW,LH));
  graphics.push(text(t,LX,cy,'80px "Liberation Serif",serif'));
  if(i<levelLabels.length-1)levelEdges.push({coords:[[LX,cy+LH/2],[LX,topOf(i+1)+BOX/2-LH/2-TIP]]});
});
// overlay grid in page pixels for the arrows
const ov=treeNodes.length;
grids.push({left:0,top:0,width:W,height:H});
xAxes.push({type:'value',gridIndex:ov,min:0,max:W,show:false});
yAxes.push({type:'value',gridIndex:ov,min:0,max:H,inverse:true,show:false});
const arrowSeries=(data,color,width)=>({type:'lines',coordinateSystem:'cartesian2d',xAxisIndex:ov,yAxisIndex:ov,data,polyline:false,silent:true,animation:false,z:6,
  symbol:['none','triangle'],symbolSize:[1,[9,15]],lineStyle:{color,width,opacity:1,curveness:0}});
series.push(arrowSeries(edges,'#111',1.4));
series.push(arrowSeries(levelEdges,'#444',1.6));

const chart=echarts.init(document.getElementById('c'),null,{renderer:'canvas',width:W,height:H});
chart.setOption({
  animation:false,backgroundColor:'#fff',
  grid:grids,xAxis:xAxes,yAxis:yAxes,
  visualMap:{type:'piecewise',show:false,dimension:2,seriesIndex:treeNodes.map((_,i)=>i),
    pieces:stateColors.map((c,i)=>({value:i,color:c}))},
  graphic:{elements:graphics},
  series
});
</script></body></html>
